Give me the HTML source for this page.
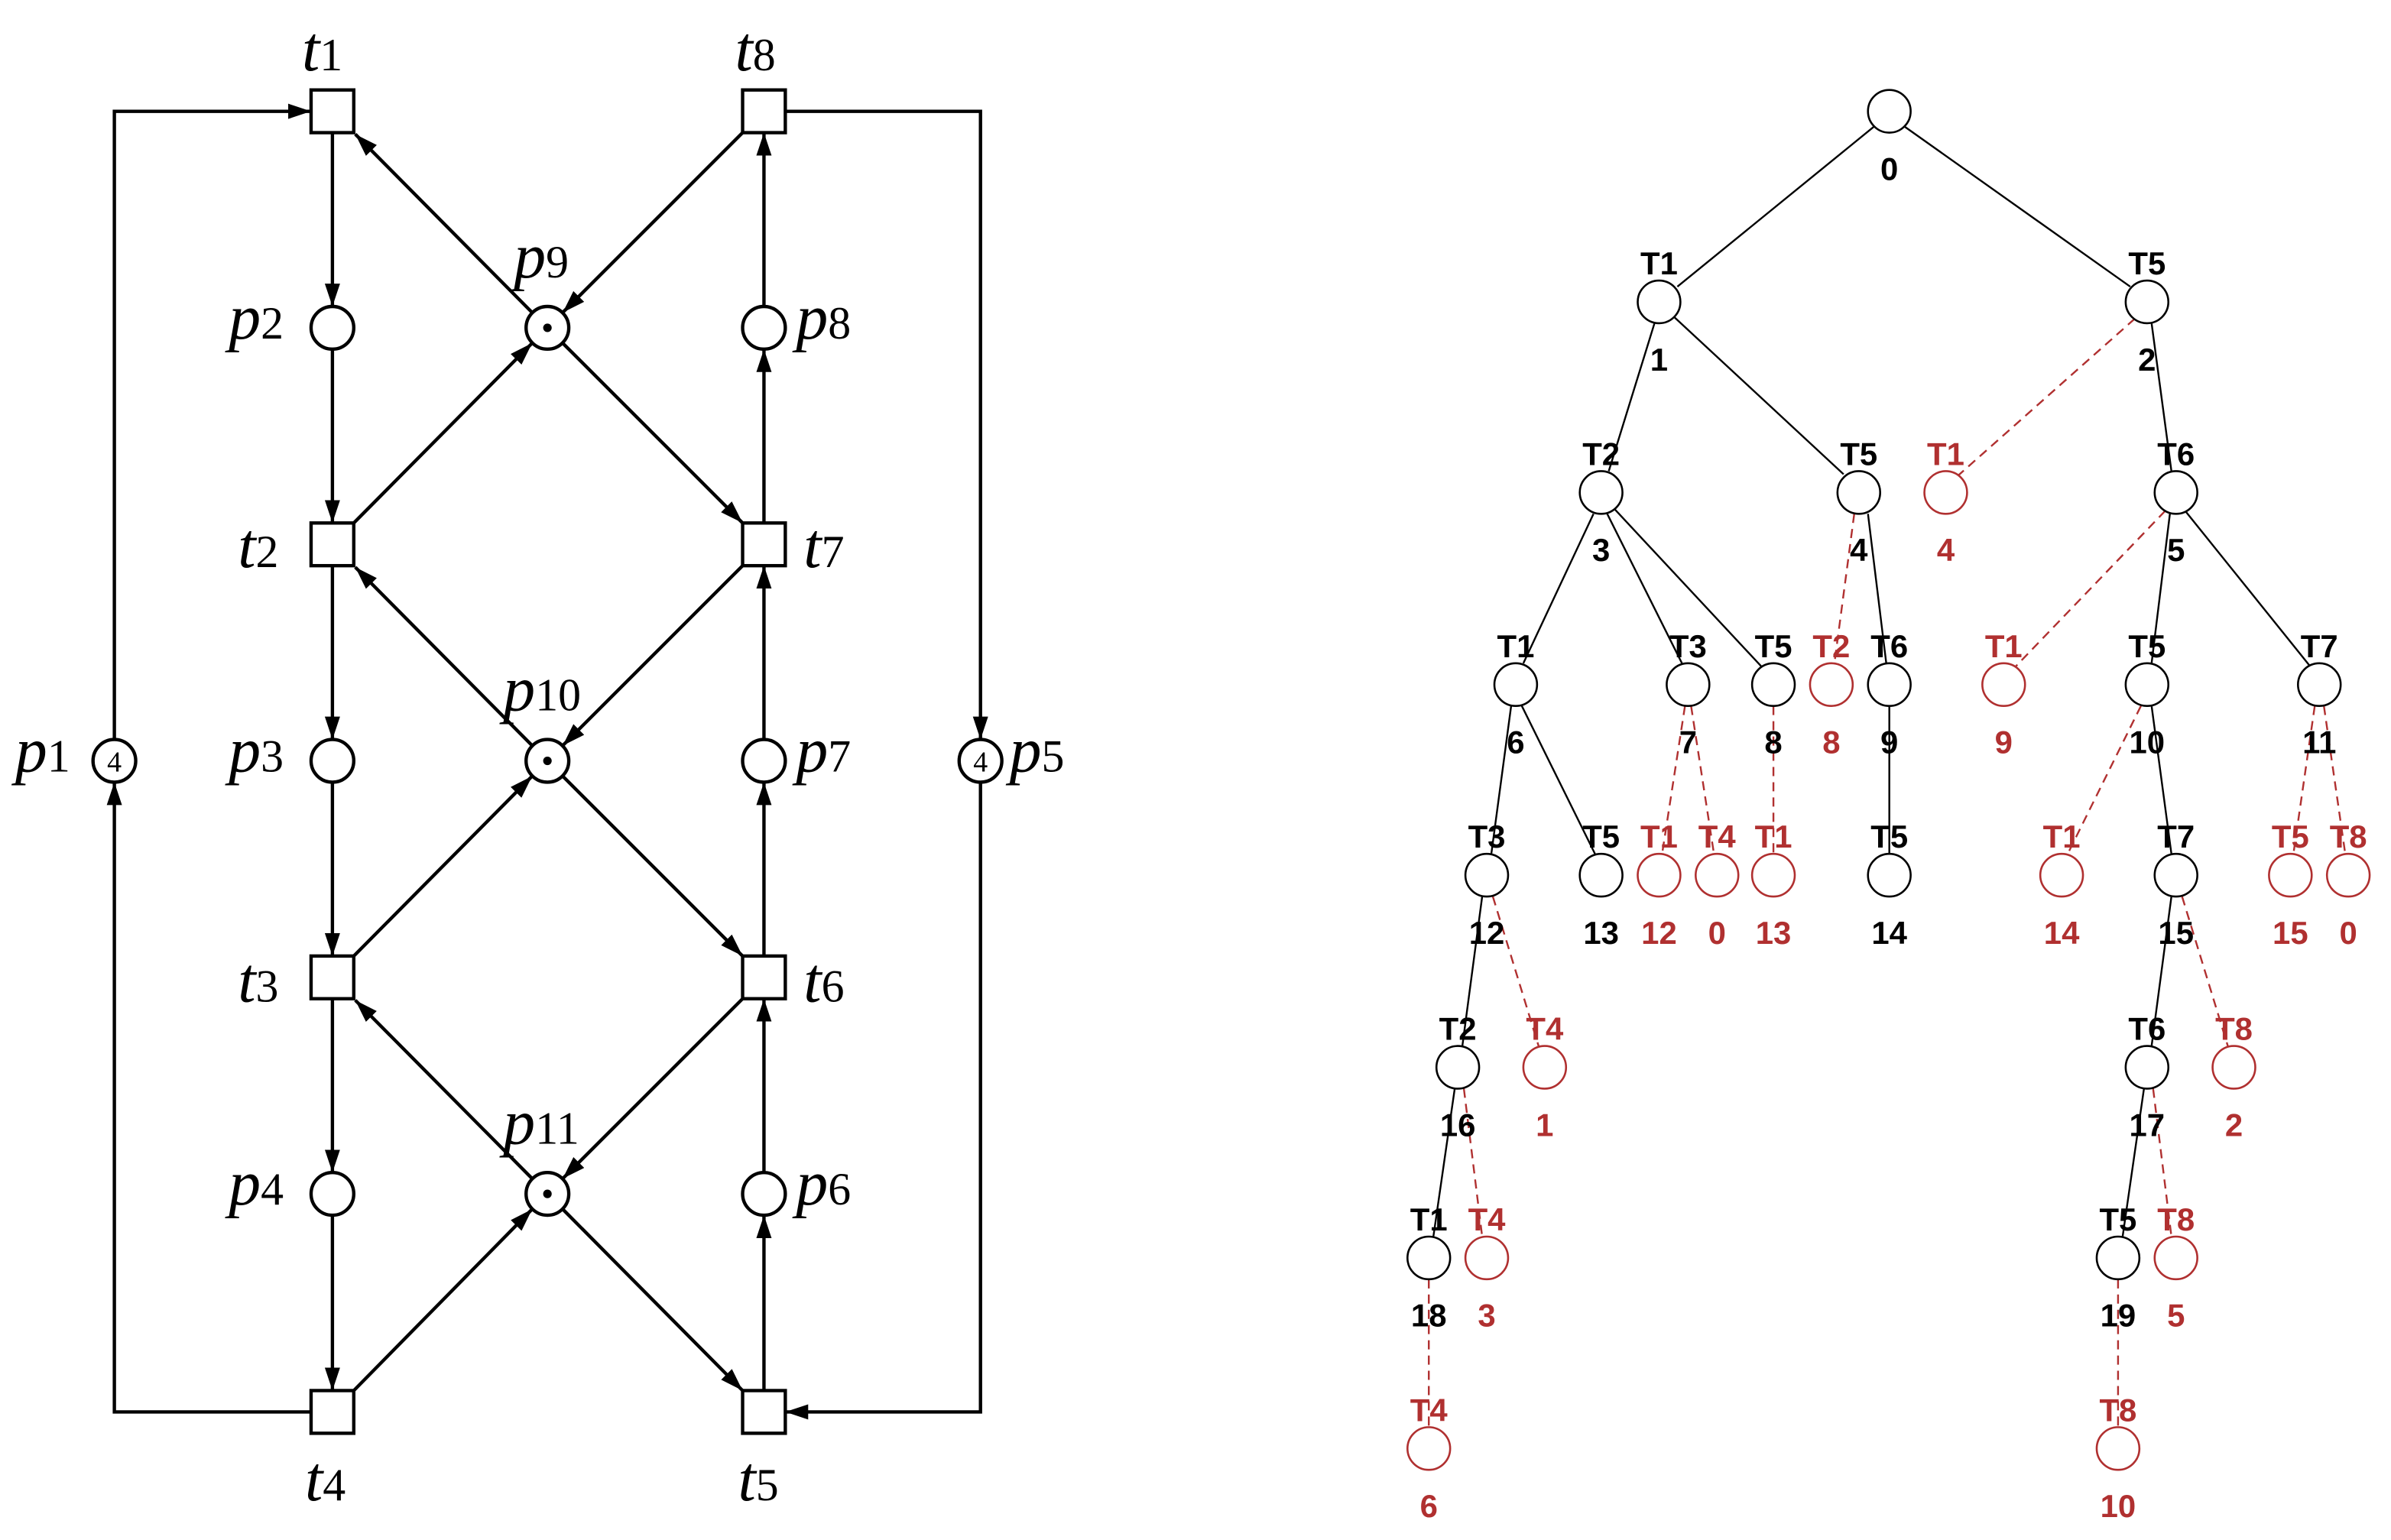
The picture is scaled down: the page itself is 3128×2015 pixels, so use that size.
<!DOCTYPE html>
<html><head><meta charset="utf-8"><style>html,body{margin:0;padding:0;background:#fff}svg{display:block}</style></head>
<body>
<svg width="3128" height="2015" viewBox="0 0 1568 1010" preserveAspectRatio="none" xmlns="http://www.w3.org/2000/svg">
<defs>
<marker id="a" markerUnits="userSpaceOnUse" markerWidth="16" markerHeight="12" refX="15" refY="5" orient="auto"><path d="M0,0 L15,5 L0,10 z" fill="#000"/></marker>
</defs>
<g stroke="#000" stroke-width="2.2" fill="none" marker-end="url(#a)">
<line x1="218" y1="87" x2="218" y2="201"/>
<line x1="218" y1="229" x2="218" y2="343"/>
<line x1="218" y1="371" x2="218" y2="485"/>
<line x1="218" y1="513" x2="218" y2="627"/>
<line x1="218" y1="655" x2="218" y2="769"/>
<line x1="218" y1="797" x2="218" y2="912"/>
<line x1="501" y1="912" x2="501" y2="797"/>
<line x1="501" y1="769" x2="501" y2="655"/>
<line x1="501" y1="627" x2="501" y2="513"/>
<line x1="501" y1="485" x2="501" y2="371"/>
<line x1="501" y1="343" x2="501" y2="229"/>
<line x1="501" y1="201" x2="501" y2="87"/>
<line x1="349" y1="205" x2="233" y2="88"/>
<line x1="487" y1="87" x2="369" y2="205"/>
<line x1="232" y1="343" x2="349" y2="225"/>
<line x1="369" y1="225" x2="487" y2="343"/>
<line x1="349" y1="489" x2="233" y2="372"/>
<line x1="487" y1="371" x2="369" y2="489"/>
<line x1="232" y1="627" x2="349" y2="509"/>
<line x1="369" y1="509" x2="487" y2="627"/>
<line x1="349" y1="773" x2="233" y2="656"/>
<line x1="487" y1="655" x2="369" y2="773"/>
<line x1="232" y1="912" x2="349" y2="793"/>
<line x1="369" y1="793" x2="487" y2="912"/>
<polyline points="75,485 75,73 204,73"/>
<polyline points="204,926 75,926 75,513"/>
<polyline points="515,73 643,73 643,485"/>
<polyline points="643,513 643,926 515,926"/>
</g>
<g stroke="#000" stroke-width="2.2" fill="#fff">
<rect x="204" y="59" width="28" height="28"/><rect x="487" y="59" width="28" height="28"/>
<rect x="204" y="343" width="28" height="28"/><rect x="487" y="343" width="28" height="28"/>
<rect x="204" y="627" width="28" height="28"/><rect x="487" y="627" width="28" height="28"/>
<rect x="204" y="912" width="28" height="28"/><rect x="487" y="912" width="28" height="28"/>
<circle cx="218" cy="215" r="14"/><circle cx="359" cy="215" r="14"/><circle cx="501" cy="215" r="14"/>
<circle cx="218" cy="499" r="14"/><circle cx="359" cy="499" r="14"/><circle cx="501" cy="499" r="14"/>
<circle cx="218" cy="783" r="14"/><circle cx="359" cy="783" r="14"/><circle cx="501" cy="783" r="14"/>
<circle cx="75" cy="499" r="14"/><circle cx="643" cy="499" r="14"/>
</g>
<g fill="#000"><circle cx="359" cy="215" r="2.8"/><circle cx="359" cy="499" r="2.8"/><circle cx="359" cy="783" r="2.8"/></g>
<g font-family="Liberation Serif, serif" fill="#000">
<text x="75" y="506" font-size="19" text-anchor="middle">4</text>
<text x="643" y="506" font-size="19" text-anchor="middle">4</text>
</g>
<g font-family="Liberation Serif, serif" font-size="42" fill="#000">
<text x="198" y="46"><tspan font-style="italic">t</tspan><tspan font-size="30">1</tspan></text>
<text x="482" y="46"><tspan font-style="italic">t</tspan><tspan font-size="30">8</tspan></text>
<text x="156" y="372"><tspan font-style="italic">t</tspan><tspan font-size="30">2</tspan></text>
<text x="527" y="372"><tspan font-style="italic">t</tspan><tspan font-size="30">7</tspan></text>
<text x="156" y="657"><tspan font-style="italic">t</tspan><tspan font-size="30">3</tspan></text>
<text x="527" y="657"><tspan font-style="italic">t</tspan><tspan font-size="30">6</tspan></text>
<text x="200" y="984"><tspan font-style="italic">t</tspan><tspan font-size="30">4</tspan></text>
<text x="484" y="984"><tspan font-style="italic">t</tspan><tspan font-size="30">5</tspan></text>
<text x="150" y="222"><tspan font-style="italic">p</tspan><tspan font-size="30">2</tspan></text>
<text x="522" y="222"><tspan font-style="italic">p</tspan><tspan font-size="30">8</tspan></text>
<text x="150" y="506"><tspan font-style="italic">p</tspan><tspan font-size="30">3</tspan></text>
<text x="522" y="506"><tspan font-style="italic">p</tspan><tspan font-size="30">7</tspan></text>
<text x="150" y="790"><tspan font-style="italic">p</tspan><tspan font-size="30">4</tspan></text>
<text x="522" y="790"><tspan font-style="italic">p</tspan><tspan font-size="30">6</tspan></text>
<text x="10" y="506"><tspan font-style="italic">p</tspan><tspan font-size="30">1</tspan></text>
<text x="662" y="506"><tspan font-style="italic">p</tspan><tspan font-size="30">5</tspan></text>
<text x="337" y="182"><tspan font-style="italic">p</tspan><tspan font-size="30">9</tspan></text>
<text x="330" y="466"><tspan font-style="italic">p</tspan><tspan font-size="30">10</tspan></text>
<text x="330" y="750"><tspan font-style="italic">p</tspan><tspan font-size="30">11</tspan></text>
</g>

<g stroke="#000" stroke-width="1.2" fill="none">
<line x1="1229" y1="83" x2="1100" y2="188"/>
<line x1="1249" y1="83" x2="1397" y2="188"/>
<line x1="1085" y1="212" x2="1055" y2="309"/>
<line x1="1098" y1="208" x2="1209" y2="311"/>
<line x1="1411" y1="212" x2="1424" y2="309"/>
<line x1="1045" y1="337" x2="999" y2="435"/>
<line x1="1054" y1="337" x2="1103" y2="435"/>
<line x1="1058" y1="333" x2="1155" y2="437"/>
<line x1="1225" y1="337" x2="1237" y2="435"/>
<line x1="1423" y1="337" x2="1411" y2="435"/>
<line x1="1433" y1="335" x2="1515" y2="437"/>
<line x1="991" y1="463" x2="978" y2="560"/>
<line x1="998" y1="463" x2="1046" y2="560"/>
<line x1="1239" y1="463" x2="1239" y2="560"/>
<line x1="1411" y1="463" x2="1424" y2="560"/>
<line x1="972" y1="588" x2="959" y2="686"/>
<line x1="1424" y1="588" x2="1411" y2="686"/>
<line x1="954" y1="714" x2="940" y2="811"/>
<line x1="1406" y1="714" x2="1392" y2="811"/>
</g>
<g stroke="#b03030" stroke-width="1.2" fill="none" stroke-dasharray="6,4">
<line x1="1400" y1="209" x2="1284" y2="312"/>
<line x1="1216" y1="337" x2="1203" y2="435"/>
<line x1="1420" y1="335" x2="1321" y2="438"/>
<line x1="1105" y1="463" x2="1090" y2="560"/>
<line x1="1109" y1="463" x2="1124" y2="560"/>
<line x1="1163" y1="463" x2="1163" y2="560"/>
<line x1="1404" y1="463" x2="1356" y2="560"/>
<line x1="1518" y1="463" x2="1504" y2="560"/>
<line x1="1524" y1="463" x2="1538" y2="560"/>
<line x1="979" y1="588" x2="1009" y2="686"/>
<line x1="1431" y1="588" x2="1461" y2="686"/>
<line x1="960" y1="714" x2="972" y2="811"/>
<line x1="1412" y1="714" x2="1424" y2="811"/>
<line x1="937" y1="839" x2="937" y2="936"/>
<line x1="1389" y1="839" x2="1389" y2="936"/>
</g>
<g stroke="#000" stroke-width="1.3" fill="#fff">
<ellipse cx="1239" cy="73" rx="14" ry="14"/>
<ellipse cx="1088" cy="198" rx="14" ry="14"/><ellipse cx="1408" cy="198" rx="14" ry="14"/>
<ellipse cx="1050" cy="323" rx="14" ry="14"/><ellipse cx="1219" cy="323" rx="14" ry="14"/><ellipse cx="1427" cy="323" rx="14" ry="14"/>
<ellipse cx="994" cy="449" rx="14" ry="14"/><ellipse cx="1107" cy="449" rx="14" ry="14"/><ellipse cx="1163" cy="449" rx="14" ry="14"/><ellipse cx="1239" cy="449" rx="14" ry="14"/><ellipse cx="1408" cy="449" rx="14" ry="14"/><ellipse cx="1521" cy="449" rx="14" ry="14"/>
<ellipse cx="975" cy="574" rx="14" ry="14"/><ellipse cx="1050" cy="574" rx="14" ry="14"/><ellipse cx="1239" cy="574" rx="14" ry="14"/><ellipse cx="1427" cy="574" rx="14" ry="14"/>
<ellipse cx="956" cy="700" rx="14" ry="14"/><ellipse cx="1408" cy="700" rx="14" ry="14"/>
<ellipse cx="937" cy="825" rx="14" ry="14"/><ellipse cx="1389" cy="825" rx="14" ry="14"/>
</g>
<g stroke="#b03030" stroke-width="1.3" fill="#fff">
<ellipse cx="1276" cy="323" rx="14" ry="14"/>
<ellipse cx="1201" cy="449" rx="14" ry="14"/><ellipse cx="1314" cy="449" rx="14" ry="14"/>
<ellipse cx="1088" cy="574" rx="14" ry="14"/><ellipse cx="1126" cy="574" rx="14" ry="14"/><ellipse cx="1163" cy="574" rx="14" ry="14"/><ellipse cx="1352" cy="574" rx="14" ry="14"/><ellipse cx="1502" cy="574" rx="14" ry="14"/><ellipse cx="1540" cy="574" rx="14" ry="14"/>
<ellipse cx="1013" cy="700" rx="14" ry="14"/><ellipse cx="1465" cy="700" rx="14" ry="14"/>
<ellipse cx="975" cy="825" rx="14" ry="14"/><ellipse cx="1427" cy="825" rx="14" ry="14"/>
<ellipse cx="937" cy="950" rx="14" ry="14"/><ellipse cx="1389" cy="950" rx="14" ry="14"/>
</g>
<g font-family="Liberation Sans Narrow, Liberation Sans, sans-serif" font-weight="bold" font-size="21" text-anchor="middle" fill="#000">
<text x="1239" y="118">0</text>
<text x="1088" y="180">T1</text><text x="1088" y="243">1</text>
<text x="1408" y="180">T5</text><text x="1408" y="243">2</text>
<text x="1050" y="305">T2</text><text x="1050" y="368">3</text>
<text x="1219" y="305">T5</text><text x="1219" y="368">4</text>
<text x="1427" y="305">T6</text><text x="1427" y="368">5</text>
<text x="994" y="431">T1</text><text x="994" y="494">6</text>
<text x="1107" y="431">T3</text><text x="1107" y="494">7</text>
<text x="1163" y="431">T5</text><text x="1163" y="494">8</text>
<text x="1239" y="431">T6</text><text x="1239" y="494">9</text>
<text x="1408" y="431">T5</text><text x="1408" y="494">10</text>
<text x="1521" y="431">T7</text><text x="1521" y="494">11</text>
<text x="975" y="556">T3</text><text x="975" y="619">12</text>
<text x="1050" y="556">T5</text><text x="1050" y="619">13</text>
<text x="1239" y="556">T5</text><text x="1239" y="619">14</text>
<text x="1427" y="556">T7</text><text x="1427" y="619">15</text>
<text x="956" y="682">T2</text><text x="956" y="745">16</text>
<text x="1408" y="682">T6</text><text x="1408" y="745">17</text>
<text x="937" y="807">T1</text><text x="937" y="870">18</text>
<text x="1389" y="807">T5</text><text x="1389" y="870">19</text>
</g>
<g font-family="Liberation Sans Narrow, Liberation Sans, sans-serif" font-weight="bold" font-size="21" text-anchor="middle" fill="#b03030">
<text x="1276" y="305">T1</text><text x="1276" y="368">4</text>
<text x="1201" y="431">T2</text><text x="1201" y="494">8</text>
<text x="1314" y="431">T1</text><text x="1314" y="494">9</text>
<text x="1088" y="556">T1</text><text x="1088" y="619">12</text>
<text x="1126" y="556">T4</text><text x="1126" y="619">0</text>
<text x="1163" y="556">T1</text><text x="1163" y="619">13</text>
<text x="1352" y="556">T1</text><text x="1352" y="619">14</text>
<text x="1502" y="556">T5</text><text x="1502" y="619">15</text>
<text x="1540" y="556">T8</text><text x="1540" y="619">0</text>
<text x="1013" y="682">T4</text><text x="1013" y="745">1</text>
<text x="1465" y="682">T8</text><text x="1465" y="745">2</text>
<text x="975" y="807">T4</text><text x="975" y="870">3</text>
<text x="1427" y="807">T8</text><text x="1427" y="870">5</text>
<text x="937" y="932">T4</text><text x="937" y="995">6</text>
<text x="1389" y="932">T8</text><text x="1389" y="995">10</text>
</g>
</svg>
</body></html>
